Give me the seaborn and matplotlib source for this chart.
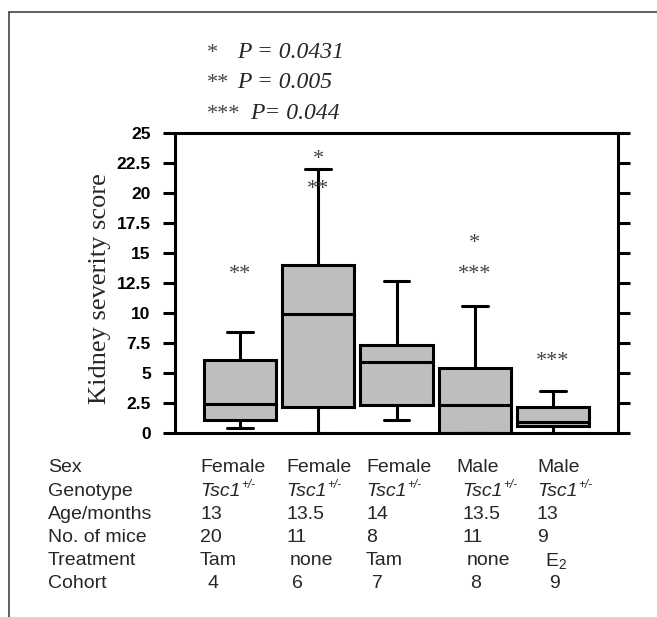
import numpy as np
import pandas as pd
import seaborn as sns
import matplotlib.pyplot as plt
from matplotlib.lines import Line2D

# ==================================================
# data
# ==================================================
cohorts = ["4", "6", "7", "8", "9"]
whisker_low = [0.4, 0.0, 1.1, 0.0, 0.0]
q1 = [1.1, 2.2, 2.3, 0.0, 0.6]
median = [2.45, 9.9, 5.9, 2.3, 0.95]
q3 = [6.1, 14.0, 7.3, 5.4, 2.15]
whisker_high = [8.4, 22.0, 12.7, 10.6, 3.5]

# significance stars above boxes: (box index, y value, text)
star_box = [0, 1, 1, 3, 3, 4]
star_y = [13.7, 23.3, 20.8, 16.3, 13.75, 6.5]
star_text = ["**", "*", "**", "*", "***", "***"]

p_stars = ["*", "**", "***"]
p_texts = ["P = 0.0431", "P = 0.005", "P= 0.044"]

y_ticks = [0, 2.5, 5, 7.5, 10, 12.5, 15, 17.5, 20, 22.5, 25]

row_names = ["Sex", "Genotype", "Age/months", "No. of mice", "Treatment", "Cohort"]
sex = ["Female", "Female", "Female", "Male", "Male"]
genotype = ["Tsc1"] * 5
genotype_sup = "+/-"
age = ["13", "13.5", "14", "13.5", "13"]
n_mice = ["20", "11", "8", "11", "9"]
treatment = ["Tam", "none", "Tam", "none", r"E$_\mathregular{2}$"]

# ==================================================
# style
# ==================================================
sns.set_theme(style="white")
plt.rcParams["font.family"] = ["Liberation Sans", "DejaVu Sans"]
plt.rcParams["mathtext.fontset"] = "custom"
plt.rcParams["mathtext.rm"] = "Liberation Sans"
plt.rcParams["mathtext.it"] = "Liberation Sans:italic"

W, H = 657, 617
fig = plt.figure(figsize=(W / 100, H / 100), dpi=100)


def px(x, y):
    return x / W, 1 - y / H


# long table: each box is given by its five summary values
rows = []
for c, a, b, m, d, e in zip(cohorts, whisker_low, q1, median, q3, whisker_high):
    for v in (a, b, m, d, e):
        rows.append({"cohort": c, "score": v})
df = pd.DataFrame(rows)

ax = fig.add_axes([175 / W, 1 - 433 / H, (618 - 175) / W, (433 - 133) / H])

sns.boxplot(
    data=df,
    x="cohort",
    y="score",
    order=cohorts,
    whis=(0, 100),
    width=0.92,
    color="#bebebe",
    saturation=1,
    linecolor="black",
    linewidth=2.2,
    capwidths=0.33,
    ax=ax,
)

ax.set_xlim(-0.83, 4.83)
ax.set_ylim(0, 25)
ax.set_xticks([])
ax.set_xlabel("")
ax.set_ylabel("")
ax.set_yticks(y_ticks)
ax.set_yticklabels([f"{t:g}" for t in y_ticks], fontweight="bold", fontsize=12.5)
ax.tick_params(axis="y", left=True, right=True, direction="out",
               length=8.5, width=2.2, pad=9, colors="black")
for s in ax.spines.values():
    s.set_visible(True)
    s.set_color("black")
    s.set_linewidth(2.2)

# stars above the boxes
for i, yv, t in zip(star_box, star_y, star_text):
    ax.text(i, yv - 0.9, t, ha="center", va="baseline",
            fontsize=16, family="Liberation Serif", color="#444444")

fig.text(*px(100, 289), "Kidney severity score",
         rotation=90, ha="center", va="center",
         fontsize=19, family="Liberation Serif")

# P value key
p_x = [237, 237, 250]
for k, (s, t) in enumerate(zip(p_stars, p_texts)):
    yb = 58 + 30.5 * k
    fig.text(*px(207, yb), s, ha="left", va="baseline",
             fontsize=16, family="Liberation Serif", color="#444444")
    fig.text(*px(p_x[k], yb), t, ha="left", va="baseline",
             fontsize=17, family="Liberation Serif", style="italic")

# table under the plot
table = [sex, genotype, age, n_mice, treatment, cohorts]
col_x = [
    [200, 286, 366, 456, 537],
    [200, 286, 366, 462, 537],
    [200, 286, 366, 462, 537],
    [200, 286, 366, 462, 537],
    [200, 290, 366, 467, 545],
    [208, 292, 372, 470, 549],
]
renderer = fig.canvas.get_renderer()
for r, (name, vals) in enumerate(zip(row_names, table)):
    yc = 468 + 23.2 * r
    fig.text(*px(48, yc), name, ha="left", va="center", fontsize=14)
    for xv, v in zip(col_x[r], vals):
        if name == "Genotype":
            t = fig.text(*px(xv, yc), v, ha="left", va="center",
                         fontsize=14, style="italic")
            wpx = t.get_window_extent(renderer).width
            fig.text(*px(xv + wpx + 1, yc - 6), genotype_sup, ha="left",
                     va="center", fontsize=8.5, style="italic")
        else:
            fig.text(*px(xv, yc), v, ha="left", va="center", fontsize=14)

# outer frame (top and left)
fig.add_artist(Line2D([9 / W, 1], [1 - 12 / H, 1 - 12 / H], color="#444444", lw=1.2))
fig.add_artist(Line2D([9 / W, 9 / W], [0, 1 - 12 / H], color="#444444", lw=1.2))

fig.savefig("out.png", dpi=100)
